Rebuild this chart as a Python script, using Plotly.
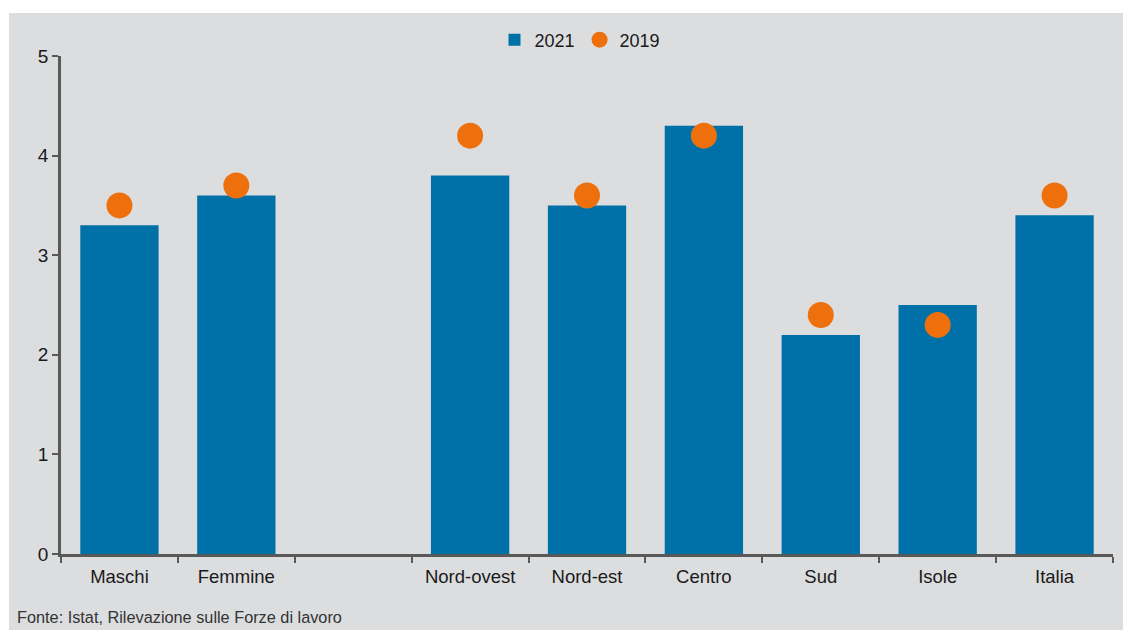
import plotly.graph_objects as go

categories = ["Maschi", "Femmine", " ", "Nord-ovest", "Nord-est", "Centro", "Sud", "Isole", "Italia"]
values_2021 = [3.3, 3.6, None, 3.8, 3.5, 4.3, 2.2, 2.5, 3.4]
values_2019 = [3.5, 3.7, None, 4.2, 3.6, 4.2, 2.4, 2.3, 3.6]
y_ticks = [0, 1, 2, 3, 4, 5]

BG = "#DCDDDF"
BLUE = "#0071A8"
ORANGE = "#EE700C"
AXIS = "#595959"

fig = go.Figure()
fig.add_trace(go.Bar(x=categories, y=values_2021, name="2021", marker=dict(color=BLUE, line=dict(width=0))))
fig.add_trace(go.Scatter(x=categories, y=values_2019, name="2019", mode="markers",
                         marker=dict(color=ORANGE, size=26, line=dict(width=0))))

# page body has an 8px margin; figure sized to fit the 1131x630 window
OFF = 8
W, H = 1131 - OFF, 630 - OFF
L, R, T, B = 61 - OFF, 18, 56 - OFF, 76
pw = W - L - R
ph = H - T - B

fig.update_layout(
    width=W, height=H,
    margin=dict(l=L, r=R, t=T, b=B, pad=0),
    paper_bgcolor=BG, plot_bgcolor=BG,
    font=dict(family="Liberation Sans, Arial, sans-serif", size=18, color="#1a1a1a"),
    bargap=0.33,
    showlegend=True,
    legend=dict(orientation="h", x=0.5 - 7 / pw, xanchor="center", y=1 + 16 / ph, yanchor="middle",
                font=dict(size=18), bgcolor="rgba(0,0,0,0)", itemwidth=30, traceorder="normal"),
    xaxis=dict(type="category", categoryorder="array", categoryarray=categories,
               range=[-0.5, len(categories) - 0.5],
               showline=True, linecolor=AXIS, linewidth=2.5, ticks="outside", tickson="boundaries",
               ticklen=6, tickwidth=2, tickcolor=AXIS, showgrid=False, zeroline=False,
               ticklabelstandoff=4,
               tickfont=dict(size=18.5), fixedrange=True),
    yaxis=dict(range=[0, 5], tickvals=y_ticks, showline=True, linecolor=AXIS, linewidth=2.5,
               ticks="outside", ticklen=6, tickwidth=2, tickcolor=AXIS, showgrid=False,
               zeroline=False, tickfont=dict(size=19), fixedrange=True),
    shapes=[
        dict(type="rect", xref="paper", yref="paper", x0=-L / pw - 0.01, x1=1 + R / pw + 0.01,
             y0=1 + (T - (13 - OFF)) / ph, y1=1 + T / ph + 0.01, fillcolor="white", line=dict(width=0), layer="below"),
        dict(type="rect", xref="paper", yref="paper", x0=-L / pw - 0.01, x1=(9 - 61) / pw,
             y0=-B / ph - 0.01, y1=1 + T / ph + 0.01, fillcolor="white", line=dict(width=0), layer="below"),
    ],
    annotations=[
        dict(text="Fonte: Istat, Rilevazione sulle Forze di lavoro", xref="paper", yref="paper",
             x=(15 - 61) / pw, y=-(617 - 554) / ph, xanchor="left", yanchor="middle", showarrow=False,
             font=dict(family="Liberation Sans Narrow, Arial Narrow, sans-serif", size=16.3, color="#333333")),
    ],
)

fig.write_html("out.html")
